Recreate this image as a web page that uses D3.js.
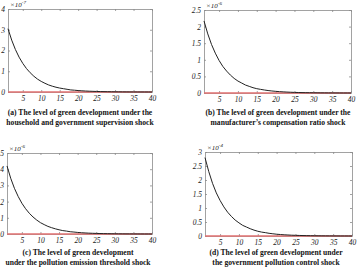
<!DOCTYPE html>
<html><head><meta charset="utf-8">
<script src="https://cdn.jsdelivr.net/npm/d3@7"></script>
<style>body{margin:0;background:#fff}svg{display:block}</style>
</head><body>
<svg id="c" width="357" height="271"></svg>
<script>
const periods = d3.range(1, 41);
const xTicks = [5, 10, 15, 20, 25, 30, 35, 40];
const seriesA = [3.05,2.50,2.05,1.68,1.38,1.13,0.93,0.76,0.62,0.51,0.42,0.34,0.28,0.23,0.19,0.16,0.13,0.10,0.086,0.070,0.058,0.047,0.039,0.032,0.026,0.021,0.017,0.014,0.012,0.0098,0.008,0.0064,0.0052,0.0043,0.0035,0.0029,0.0024,0.002,0.0016,0.0013];
const seriesB = [2.17,1.78,1.46,1.20,0.98,0.80,0.66,0.54,0.44,0.36,0.30,0.24,0.20,0.16,0.13,0.11,0.091,0.074,0.061,0.050,0.041,0.034,0.028,0.023,0.018,0.015,0.012,0.010,0.0085,0.0069,0.0057,0.0046,0.0038,0.0031,0.0026,0.0021,0.0017,0.0014,0.0012,0.0010];
const seriesC = [4.2,3.44,2.82,2.32,1.90,1.56,1.28,1.05,0.86,0.70,0.58,0.47,0.39,0.32,0.26,0.21,0.18,0.14,0.12,0.097,0.079,0.065,0.053,0.044,0.036,0.029,0.024,0.020,0.016,0.013,0.011,0.0090,0.0074,0.0061,0.0050,0.0041,0.0033,0.0027,0.0022,0.0018];
const seriesD = [2.8,2.30,1.88,1.54,1.27,1.04,0.85,0.70,0.57,0.47,0.38,0.32,0.26,0.21,0.17,0.14,0.12,0.096,0.079,0.064,0.053,0.043,0.036,0.029,0.024,0.020,0.016,0.013,0.011,0.0088,0.0072,0.0059,0.0048,0.0040,0.0033,0.0027,0.0022,0.0018,0.0015,0.0012];
const steadyState = periods.map(() => 0);
const yTicksA = [0,1,2,3,4];
const yTicksB = [0,0.5,1,1.5,2,2.5];
const yTicksC = [0,1,2,3,4,5];
const yTicksD = [0,0.5,1,1.5,2,2.5,3];
const exponents = ["-7","-6","-6","-4"];
const titles = [
  ["(a) The level of green development under the","household and government supervision shock"],
  ["(b) The level of green development under the","manufacturer\u2019s compensation ratio shock"],
  ["(c) The level of green development","under the pollution emission threshold shock"],
  ["(d) The level of green development under","the government pollution control shock"]
];

const panels = [
  {vals: seriesA, yt: yTicksA, box:[8,152,9,92], tc:[80,115,125]},
  {vals: seriesB, yt: yTicksB, box:[204,351,10,93], tc:[278,115,125]},
  {vals: seriesC, yt: yTicksC, box:[7,152,153,234], tc:[78,255,265]},
  {vals: seriesD, yt: yTicksD, box:[205,352,152,236], tc:[276,255,265]}
];

const svg = d3.select("#c");
const tickFont = "'Liberation Serif','Times New Roman',serif";
panels.forEach((p, i) => {
  const [l, r, t, b] = p.box;
  const x = d3.scaleLinear().domain([1, 40]).range([l, r]);
  const y = d3.scaleLinear().domain([0, d3.max(p.yt)]).range([b, t]);
  const g = svg.append("g");
  const xb = g.append("g").attr("transform", `translate(0,${b})`)
    .call(d3.axisBottom(x).tickValues(xTicks).tickSize(-2).tickPadding(4).tickSizeOuter(0));
  const xt = g.append("g").attr("transform", `translate(0,${t})`)
    .call(d3.axisTop(x).tickValues(xTicks).tickSize(-2).tickFormat("").tickSizeOuter(0));
  const yl = g.append("g").attr("transform", `translate(${l},0)`)
    .call(d3.axisLeft(y).tickValues(p.yt).tickSize(-2).tickPadding(3).tickSizeOuter(0).tickFormat(d3.format("")));
  const yr = g.append("g").attr("transform", `translate(${r},0)`)
    .call(d3.axisRight(y).tickValues(p.yt).tickSize(-2).tickFormat("").tickSizeOuter(0));
  [xb, xt, yl, yr].forEach(a => {
    a.selectAll("path,line").attr("stroke", "#8a8a8a").attr("stroke-width", 0.8);
    a.selectAll("text").attr("font-family", tickFont).attr("font-style", "italic")
      .attr("font-size", 7.5).attr("fill", "#222");
  });
  const ex = g.append("text").attr("x", l + 2).attr("y", t - 2)
    .attr("font-family", tickFont).attr("font-style", "italic").attr("font-size", 7).attr("fill", "#222");
  ex.append("tspan").text("\u00d710");
  ex.append("tspan").attr("dy", -3).attr("font-size", 5).text(exponents[i]);
  const line = d3.line().x((d, k) => x(periods[k])).y(d => y(d));
  g.append("path").datum(steadyState).attr("d", line)
    .attr("fill", "none").attr("stroke", "#e07070").attr("stroke-width", 1.3);
  g.append("path").datum(p.vals).attr("d", line)
    .attr("fill", "none").attr("stroke", "#222").attr("stroke-width", 1);
  titles[i].forEach((s, k) => {
    g.append("text").attr("x", p.tc[0]).attr("y", p.tc[1 + k]).attr("text-anchor", "middle")
      .attr("font-family", tickFont).attr("font-weight", "bold").attr("font-size", 7.6)
      .attr("fill", "#111").text(s);
  });
});
</script>
</body></html>
